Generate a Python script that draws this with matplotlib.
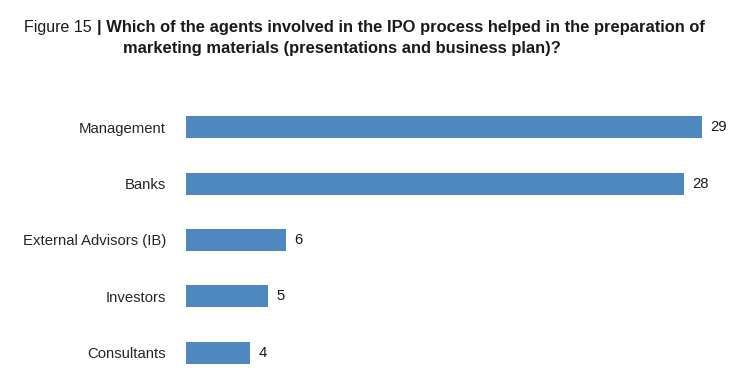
import matplotlib
matplotlib.use("Agg")
import matplotlib.pyplot as plt

categories = ["Management", "Banks", "External Advisors (IB)", "Investors", "Consultants"]
values = [29, 28, 6, 5, 4]

plt.rcParams['font.family'] = ['Liberation Sans', 'DejaVu Sans']

fig = plt.figure(figsize=(7.36, 3.84), dpi=100)
ax = fig.add_axes([186 / 736, 1 - 381 / 384, (720 - 186) / 736, (381 - 99) / 384])

ax.barh(range(len(categories)), values, height=0.39, color='#4F88BE')
ax.set_xlim(0.46, 30)
ax.set_ylim(len(categories) - 0.5, -0.5)

ax.set_yticks(range(len(categories)))
ax.set_yticklabels(categories, fontsize=10.7, color='#262626')
ax.tick_params(axis='y', length=0, pad=14.4)
ax.set_xticks([])
for s in ax.spines.values():
    s.set_visible(False)

for i, v in enumerate(values):
    ax.text(v + 0.45, i, str(v), va='center', ha='left', fontsize=10.7, color='#1a1a1a')

# title, normal prefix then bold question
fig.text(24 / 736, 1 - 32 / 384, "Figure 15 ", fontsize=11.5, color='#1a1a1a', ha='left', va='baseline')
fig.text(97 / 736, 1 - 32 / 384,
         "| Which of the agents involved in the IPO process helped in the preparation of",
         fontsize=11.9, fontweight='bold', color='#1a1a1a', ha='left', va='baseline')
fig.text(123 / 736, 1 - 53 / 384, "marketing materials (presentations and business plan)?",
         fontsize=11.9, fontweight='bold', color='#1a1a1a', ha='left', va='baseline')

fig.savefig("out.png", dpi=100, facecolor='white')
